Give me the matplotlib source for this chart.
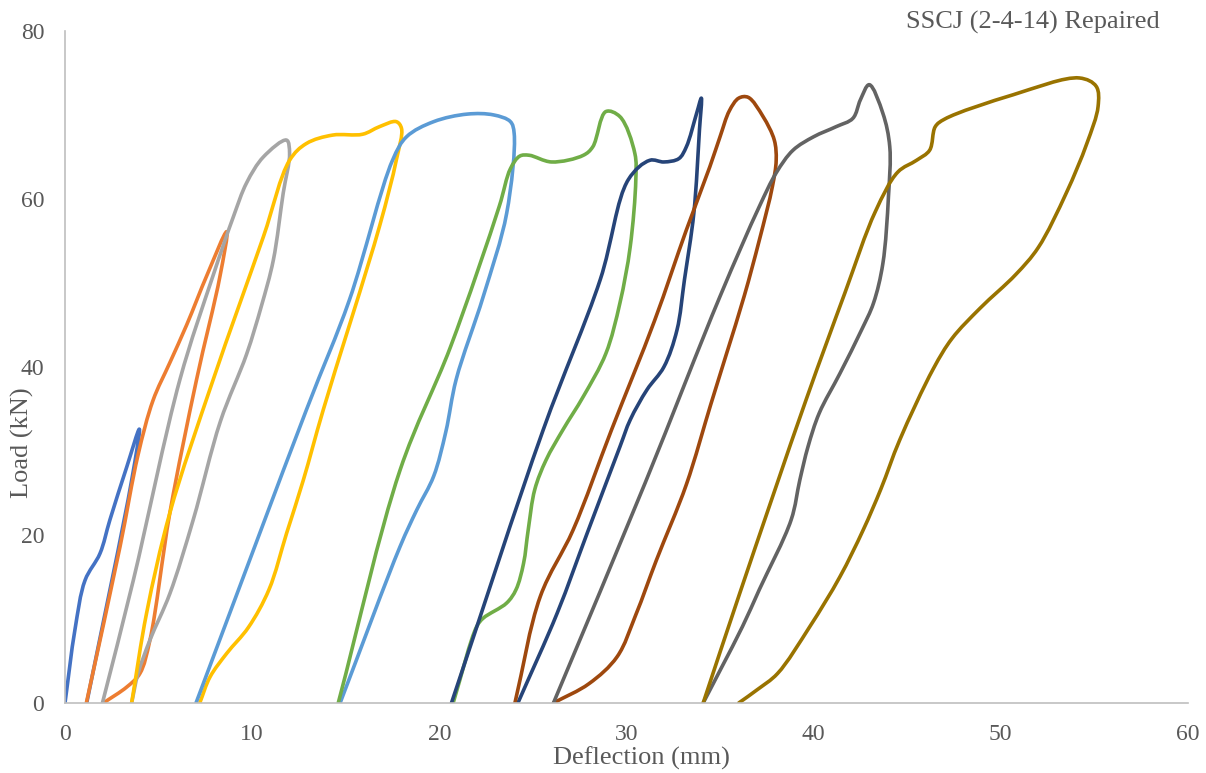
import numpy as np
import matplotlib.pyplot as plt
from matplotlib.path import Path
from matplotlib.patches import PathPatch

plt.rcParams['font.family'] = ['Liberation Serif', 'DejaVu Serif']

# load-deflection loops (deflection mm, load kN)
c1_x = [0, 0.53, 1.07, 1.87, 2.4, 3.3, 3.97, 3.56, 1.16]
c1_y = [0, 8.7, 14.6, 17.8, 21.8, 28.1, 32.6, 26.5, 0]

c2_x = [1.14, 2.94, 3.9, 4.7, 5.6, 6.5, 7.6, 8.64, 8.28, 7.03, 5.6, 4.54, 4.0, 3.3, 2.05]
c2_y = [0, 18.6, 29.5, 36, 40.5, 45, 51, 56.1, 50.8, 38.5, 22.6, 7.5, 3.5, 1.9, 0]

c3_x = [2.0, 3.65, 6.14, 7.9, 9.0, 9.7, 10.6, 11.84, 12.0, 11.66, 11.13, 10.5, 9.7,
        8.3, 6.85, 5.6, 4.54, 3.9, 3.56]
c3_y = [0, 14.6, 38.5, 50.8, 57.9, 61.9, 65, 67.0, 65.4, 60.7, 52.7, 47.3, 41.5,
        33.5, 21.8, 13, 7.5, 3.5, 0]

c4_x = [3.56, 4.36, 5.6, 7.92, 10.6, 12.0, 12.9, 14.3, 15.9, 16.8, 17.7, 17.98,
        17.7, 16.8, 13.8, 12.73, 11.84, 10.9, 9.8, 8.64, 7.75, 7.2]
c4_y = [0, 10.7, 22.6, 38.5, 55.5, 64.6, 66.6, 67.6, 67.7, 68.6, 69.2, 68.4,
        64.6, 56.7, 34.9, 26.5, 20.2, 13.5, 9.0, 5.9, 3.1, 0]

c5_x = [7.0, 12.9, 15.2, 17.5, 18.25, 19.7, 21.5, 22.9, 23.8, 24.0,
        23.6, 22.35, 20.9, 20.35, 19.7, 18.8, 17.9, 14.7]
c5_y = [0, 34.9, 48, 64.6, 67.4, 69.2, 70.1, 70.0, 69.2, 67.8,
        58.3, 48.4, 38.5, 32.3, 27.0, 23, 18.6, 0]

c6_x = [14.6, 17.9, 20.6, 23.2, 23.8, 24.3, 24.8, 26.0, 27.7, 28.2, 28.9, 29.65,
        30.45, 30.5, 30.2, 29.65, 28.9, 27.7, 26.6, 25.7, 25.1, 24.75, 24.5, 24.1,
        23.6, 22.35, 22.0, 20.74]
c6_y = [0, 27.7, 42.4, 59.1, 63.6, 65.1, 65.2, 64.4, 65.2, 66.2, 70.4, 69.8,
        65.4, 62.3, 54.3, 47.6, 41.6, 36.5, 32.5, 28.9, 25.4, 20.6, 16.6, 13.5,
        11.9, 10.1, 9.1, 0]

c7_x = [20.65, 25.55, 28.6, 30.1, 31.25, 32.0, 32.8, 33.2, 33.75, 34.0,
        33.9, 33.6, 33.1, 32.7, 32.0, 31.1, 30.2, 29.65, 27.9, 26.3, 24.2]
c7_y = [0, 32.5, 50.4, 62.3, 64.6, 64.4, 64.8, 66.2, 70.2, 72.0,
        68.2, 58.3, 50.4, 44.4, 40, 37.3, 33.7, 30.5, 20.2, 10.7, 0]

c8_x = [24.04, 25.4, 27.15, 29.2, 31.5, 33.2, 34.45, 35.0, 35.5, 36.0, 36.5, 37.3,
        37.9, 38.0, 37.8, 37.1, 36.3, 35.35, 34.5, 33.2, 31.6, 30.5, 29.5, 28.0, 26.1]
c8_y = [0, 12.7, 20.6, 32.5, 45.5, 56.3, 63.8, 67.4, 70.5, 72.0, 72.1, 69.8,
        67, 64.6, 61.5, 55.1, 48.5, 41.6, 35.5, 26, 17, 10.5, 5.5, 2.3, 0]

c9_x = [26.1, 31.0, 35.0, 37.1, 38.0, 38.9, 40.0, 41.2, 42.1, 42.5, 42.97, 43.7,
        44.07, 44.0, 43.7, 43.2, 42.56, 41.4, 40.3, 39.7, 39.26, 38.8, 37.1,
        36.2, 35.1, 34.1]
c9_y = [0, 26.2, 48.4, 59.1, 63.1, 65.8, 67.4, 68.6, 69.6, 71.8, 73.6, 70.2,
        66.2, 60.3, 52.3, 47.6, 44.4, 39.2, 34.5, 30.5, 26.5, 21.8, 13.5,
        9.1, 4.3, 0]

c10_x = [34.1, 36.06, 39.6, 41.67, 43.3, 44.5, 45.5, 46.2, 46.5, 47.0, 50.66, 54.2,
         55.1, 55.2, 54.6, 53.5, 52.0, 50.8, 48.9, 47.4, 46.4, 44.6, 43.6,
         42.65, 41.4, 39.8, 38.07, 37.0, 36.0]
c10_y = [0, 13.1, 36.1, 48.8, 58.5, 63.2, 64.6, 65.8, 68.6, 69.5, 72.4, 74.4,
         73.4, 71.0, 66.6, 60.7, 54.2, 51.0, 47.0, 43.4, 39.8, 31.3, 25.5,
         20.6, 15, 9.1, 3.5, 1.6, 0]

series = [(c1_x, c1_y), (c2_x, c2_y), (c3_x, c3_y), (c4_x, c4_y), (c5_x, c5_y),
          (c6_x, c6_y), (c7_x, c7_y), (c8_x, c8_y), (c9_x, c9_y), (c10_x, c10_y)]
colors = ['#4472C4', '#ED7D31', '#A5A5A5', '#FFC000', '#5B9BD5',
          '#70AD47', '#264478', '#9E480E', '#636363', '#997300']


def smooth_path(xs, ys, sx=18.72, sy=8.4, alpha=0.5):
    # centripetal catmull-rom through the points, drawn as cubic beziers
    p = np.column_stack([xs, ys]).astype(float)
    n = len(p)
    scale = np.array([sx, sy])

    def dist(a, b):
        return max(np.hypot(*((a - b) * scale)) ** alpha, 1e-6)

    verts = [p[0]]
    codes = [Path.MOVETO]
    for i in range(n - 1):
        p1, p2 = p[i], p[i + 1]
        p0 = p[i - 1] if i > 0 else 2 * p1 - p2
        p3 = p[i + 2] if i + 2 < n else 2 * p2 - p1
        d1, d2, d3 = dist(p0, p1), dist(p1, p2), dist(p2, p3)
        b1 = (d1 ** 2 * p2 - d2 ** 2 * p0 + (2 * d1 ** 2 + 3 * d1 * d2 + d2 ** 2) * p1) / (3 * d1 * (d1 + d2))
        b2 = (d3 ** 2 * p1 - d2 ** 2 * p3 + (2 * d3 ** 2 + 3 * d3 * d2 + d2 ** 2) * p2) / (3 * d3 * (d3 + d2))
        verts += [b1, b2, p2]
        codes += [Path.CURVE4] * 3
    return Path(verts, codes)


fig = plt.figure(figsize=(12.06, 7.73), dpi=100)
ax = fig.add_axes([0.0539, 0.0906, 0.9311, 0.8694])

for (xs, ys), col in zip(series, colors):
    ax.add_patch(PathPatch(smooth_path(xs, ys), fill=False, edgecolor=col,
                           lw=2.6, capstyle='round', joinstyle='round'))

ax.set_xlim(0, 60)
ax.set_ylim(0, 80)
ax.set_xticks(np.arange(0, 61, 10))
ax.set_yticks(np.arange(0, 81, 20))
ax.tick_params(length=0, labelsize=17, colors='#595959')
ax.tick_params(axis='x', pad=15)
ax.tick_params(axis='y', pad=15)
for s in ['top', 'right']:
    ax.spines[s].set_visible(False)
for s in ['left', 'bottom']:
    ax.spines[s].set_color('#BFBFBF')
    ax.spines[s].set_linewidth(1.2)

ax.set_xlabel('Deflection (mm)', fontsize=19, color='#595959', va='top')
ax.xaxis.set_label_coords(0.513, -0.065)
ax.set_ylabel('Load (kN)', fontsize=19, color='#595959', va='center')
ax.yaxis.set_label_coords(-0.038, 0.387)
ax.text(0.975, 1.013, 'SSCJ (2-4-14) Repaired', transform=ax.transAxes,
        ha='right', va='center', fontsize=19, color='#595959')

fig.savefig('out.png', dpi=100)
